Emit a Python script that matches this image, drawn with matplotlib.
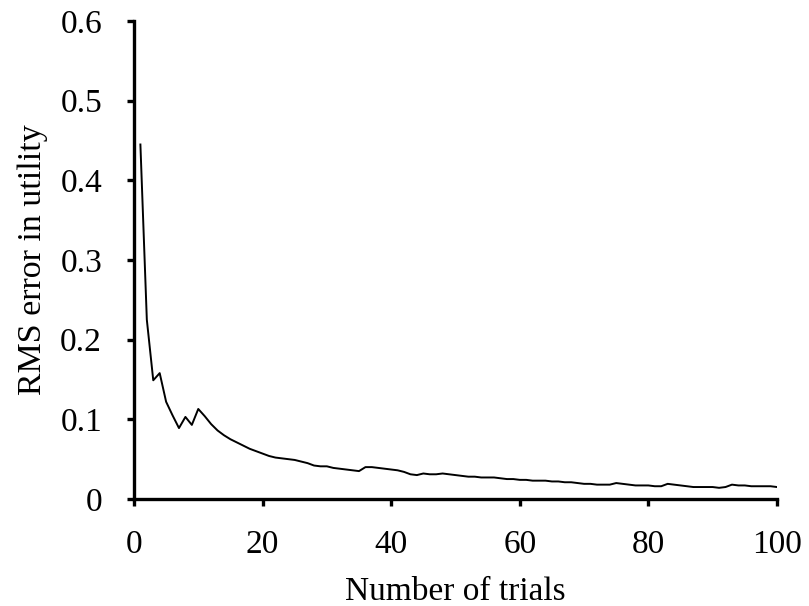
import matplotlib
matplotlib.use('Agg')
import matplotlib.pyplot as plt

plt.rcParams['font.family'] = ['Liberation Serif', 'DejaVu Serif']

trials = list(range(1, 101))
rms_error = [
    0.445, 0.225, 0.149, 0.158, 0.122, 0.105, 0.089, 0.103, 0.093, 0.113,
    0.104, 0.094, 0.086, 0.080, 0.075, 0.071, 0.067, 0.063, 0.060, 0.057,
    0.054, 0.052, 0.051, 0.050, 0.049, 0.047, 0.045, 0.042, 0.041, 0.041,
    0.039, 0.038, 0.037, 0.036, 0.035, 0.040, 0.040, 0.039, 0.038, 0.037,
    0.036, 0.034, 0.031, 0.030, 0.032, 0.031, 0.031, 0.032, 0.031, 0.030,
    0.029, 0.028, 0.028, 0.027, 0.027, 0.027, 0.026, 0.025, 0.025, 0.024,
    0.024, 0.023, 0.023, 0.023, 0.022, 0.022, 0.021, 0.021, 0.020, 0.019,
    0.019, 0.018, 0.018, 0.018, 0.020, 0.019, 0.018, 0.017, 0.017, 0.017,
    0.016, 0.016, 0.019, 0.018, 0.017, 0.016, 0.015, 0.015, 0.015, 0.015,
    0.014, 0.015, 0.018, 0.017, 0.017, 0.016, 0.016, 0.016, 0.016, 0.015,
]
x_ticks = [0, 20, 40, 60, 80, 100]
y_ticks = [0, 0.1, 0.2, 0.3, 0.4, 0.5, 0.6]
y_labels = ['0', '0.1', '0.2', '0.3', '0.4', '0.5', '0.6']

fig = plt.figure(figsize=(8.09, 6.06), dpi=100)
ax = fig.add_axes([0.1656, 0.1766, 0.7948, 0.7887])
ax.plot(trials, rms_error, color='black', linewidth=1.4)

ax.set_xlim(0, 100)
ax.set_ylim(0, 0.6)
ax.set_xticks(x_ticks)
ax.set_xticklabels([str(t) for t in x_ticks])
ax.set_yticks(y_ticks)
ax.set_yticklabels(y_labels)

for side in ['top', 'right']:
    ax.spines[side].set_visible(False)
for side in ['left', 'bottom']:
    ax.spines[side].set_linewidth(2.4)
ax.tick_params(direction='out', length=5, width=2.4, labelsize=24)
ax.tick_params(axis='y', pad=18)
ax.tick_params(axis='x', pad=17)

ax.set_xlabel('Number of trials', fontsize=24, labelpad=12)
ax.set_ylabel('RMS error in utility', fontsize=24.5, labelpad=9)

fig.savefig('out.png', dpi=100)
